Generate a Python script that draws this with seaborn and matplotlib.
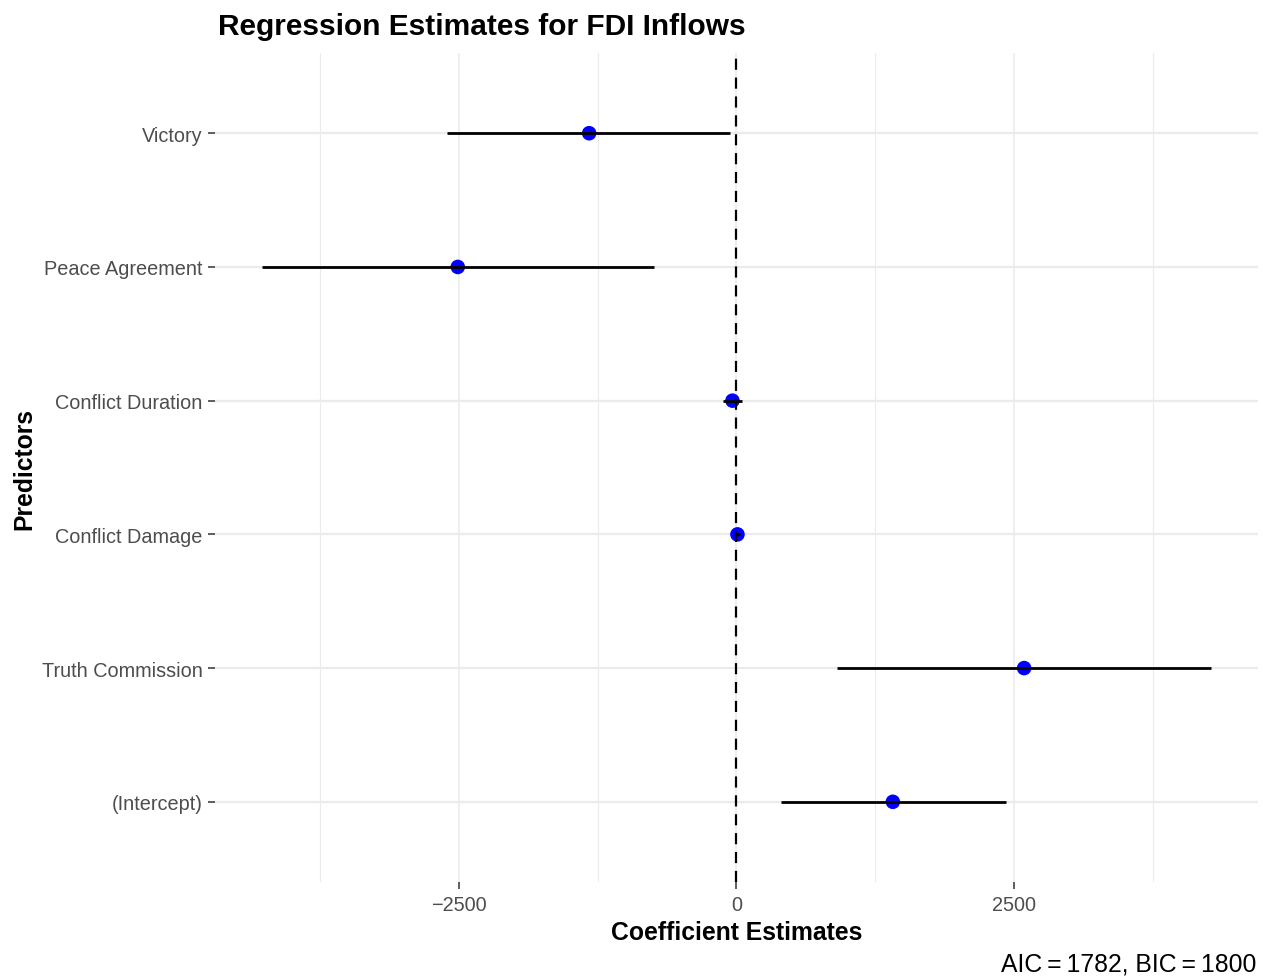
import pandas as pd
import seaborn as sns
import matplotlib.pyplot as plt

# coefficient table, bottom row first so it sits at the bottom of the axis
terms = ["(Intercept)", "Truth Commission", "Conflict Damage",
         "Conflict Duration", "Peace Agreement", "Victory"]
estimate = [1407, 2588, 9, -36, -2507, -1325]
conf_low = [397, 902, -15, -117, -4265, -2606]
conf_high = [2426, 4265, 35, 54, -739, -54]

df = pd.DataFrame({"term": terms, "estimate": estimate,
                   "conf_low": conf_low, "conf_high": conf_high})

sns.set_theme(style="whitegrid")
plt.rcParams['font.family'] = ['Liberation Sans', 'DejaVu Sans']
plt.rcParams['text.color'] = 'black'

fig = plt.figure(figsize=(12.63, 9.78), dpi=100)
ax = fig.add_axes([0.1702, 0.0971, 0.8258, 0.8477])

ypos = list(range(len(terms)))
sns.scatterplot(data=df, x="estimate", y=ypos, color="blue", s=110,
                edgecolor="none", ax=ax, zorder=3)
ax.hlines(ypos, df["conf_low"], df["conf_high"], color="black",
          linewidth=2.0, zorder=4)
ax.axvline(0, color="black", linestyle=(0, (5, 3.5)), linewidth=1.6, zorder=5)

span = max(df["conf_high"]) - min(df["conf_low"])
ax.set_xlim(min(df["conf_low"]) - 0.05 * span, max(df["conf_high"]) + 0.05 * span)
ax.set_ylim(-0.6, len(terms) - 0.4)
ax.set_yticks(ypos)
ax.set_yticklabels(terms)
ax.set_xticks([-2500, 0, 2500])
ax.set_xticklabels(["\u22122500", "0", "2500"])
ax.set_xticks([-3750, -1250, 1250, 3750], minor=True)

ax.grid(which="major", color="#EBEBEB", linewidth=1.6)
ax.grid(which="minor", axis="x", color="#EBEBEB", linewidth=0.8)
ax.grid(which="major", axis="x", linewidth=1.1)
for s in ax.spines.values():
    s.set_visible(False)
ax.tick_params(axis="both", which="major", length=5, width=1.1,
               bottom=True, left=True,
               color="#333333", labelcolor="#4D4D4D", labelsize=14.3, pad=4)
ax.tick_params(axis="both", which="minor", length=0)

ax.set_xlabel("Coefficient Estimates", fontsize=17.8, fontweight="bold",
              color="black", labelpad=5)
ax.set_ylabel("Predictors", fontsize=17.8, fontweight="bold",
              color="black", labelpad=4)
fig.text(0.1725, 0.972, "Regression Estimates for FDI Inflows", fontsize=21.5,
         fontweight="bold", ha="left", va="center", color="black")
fig.text(0.995, 0.002, "AIC\u2009=\u20091782, BIC\u2009=\u20091800", fontsize=17.8,
         ha="right", va="bottom", color="black")

fig.savefig("out.png", dpi=100)
